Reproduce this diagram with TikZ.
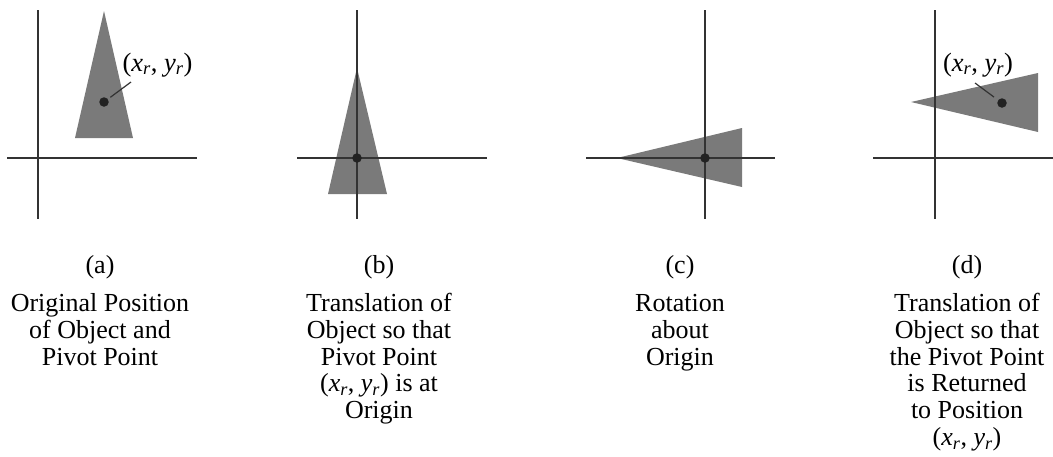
\documentclass[tikz,border=0pt]{standalone}
\usepackage{fontspec}
\setmainfont{Liberation Serif}
\newcommand{\pivotlbl}{(\textit{x}\textsubscript{\textit{r}}, \textit{y}\textsubscript{\textit{r}})}
\newcommand{\firstln}{\rule{0pt}{19pt}}
\definecolor{axisgray}{HTML}{333333}
\definecolor{trigray}{HTML}{7A7A7A}
\definecolor{dotgray}{HTML}{222222}
\tikzset{
  axisline/.style={draw=axisgray, line width=1.4pt},
  tri/.style={fill=trigray},
  pivot/.style={circle, fill=dotgray, inner sep=0pt, minimum size=9.5pt},
  lead/.style={draw=axisgray, line width=1.2pt},
  lbl/.style={anchor=base, inner sep=0pt, font=\fontsize{26.5}{27}\selectfont},
  tag/.style={anchor=base, inner sep=0pt, font=\fontsize{26}{26.7}\selectfont},
  captxt/.style={anchor=north, inner sep=0pt, align=center, font=\fontsize{26}{26.9}\selectfont},
}
\begin{document}
\begin{tikzpicture}[x=1pt,y=-1pt]
\useasboundingbox (0,0) rectangle (1053,456);
% ---------- (a)
\fill[tri] (104,11) -- (75,138) -- (133,138) -- cycle;
\coordinate (aT) at (38,10);   \coordinate (aB) at (38,219);
\coordinate (aL) at (7,158);   \coordinate (aR) at (197,158);
\draw[axisline] (aT) -- (aB);
\draw[axisline] (aL) -- (aR);
\node[pivot] (pa) at (104,102) {};
\node[lbl] (la) at (157.5,71) {\pivotlbl};
\coordinate (laEnd) at (131,82);
\draw[lead, shorten <=3pt] (pa) -- (laEnd);
% ---------- (b)
\fill[tri] (357,68) -- (328,194) -- (387,194) -- cycle;
\coordinate (bT) at (357,10);  \coordinate (bB) at (357,219);
\coordinate (bL) at (297,158); \coordinate (bR) at (487,158);
\draw[axisline] (bT) -- (bB);
\draw[axisline] (bL) -- (bR);
\node[pivot] (pb) at (357,158) {};
% ---------- (c)
\fill[tri] (617,158) -- (742,128) -- (742,187) -- cycle;
\coordinate (cT) at (705,10);  \coordinate (cB) at (705,219);
\coordinate (cL) at (586,158); \coordinate (cR) at (775,158);
\draw[axisline] (cT) -- (cB);
\draw[axisline] (cL) -- (cR);
\node[pivot] (pc) at (705,158) {};
% ---------- (d)
\fill[tri] (911,102) -- (1038,73) -- (1038,132) -- cycle;
\coordinate (dT) at (935,10);  \coordinate (dB) at (935,219);
\coordinate (dL) at (873,158); \coordinate (dR) at (1053,158);
\draw[axisline] (dT) -- (dB);
\draw[axisline] (dL) -- (dR);
\node[pivot] (pd) at (1002,103) {};
\node[lbl] (ld) at (978,71) {\pivotlbl};
\coordinate (ldEnd) at (975,83);
\draw[lead, shorten <=5pt] (pd) -- (ldEnd);
% ---------- captions
\node[tag] (ta) at (100,273) {(a)};
\node[captxt] (ca) at (100,292) {\firstln Original Position\\of Object and\\Pivot Point};
\node[tag] (tb) at (379,273) {(b)};
\node[captxt] (cb) at (379,292) {\firstln Translation of\\Object so that\\Pivot Point\\\pivotlbl{} is at\\Origin};
\node[tag] (tc) at (680,273) {(c)};
\node[captxt] (cc) at (680,292) {\firstln Rotation\\about\\Origin};
\node[tag] (td) at (967,273) {(d)};
\node[captxt] (cd) at (967,292) {\firstln Translation of\\Object so that\\the Pivot Point\\is Returned\\to Position\\\pivotlbl};
\end{tikzpicture}
\end{document}
